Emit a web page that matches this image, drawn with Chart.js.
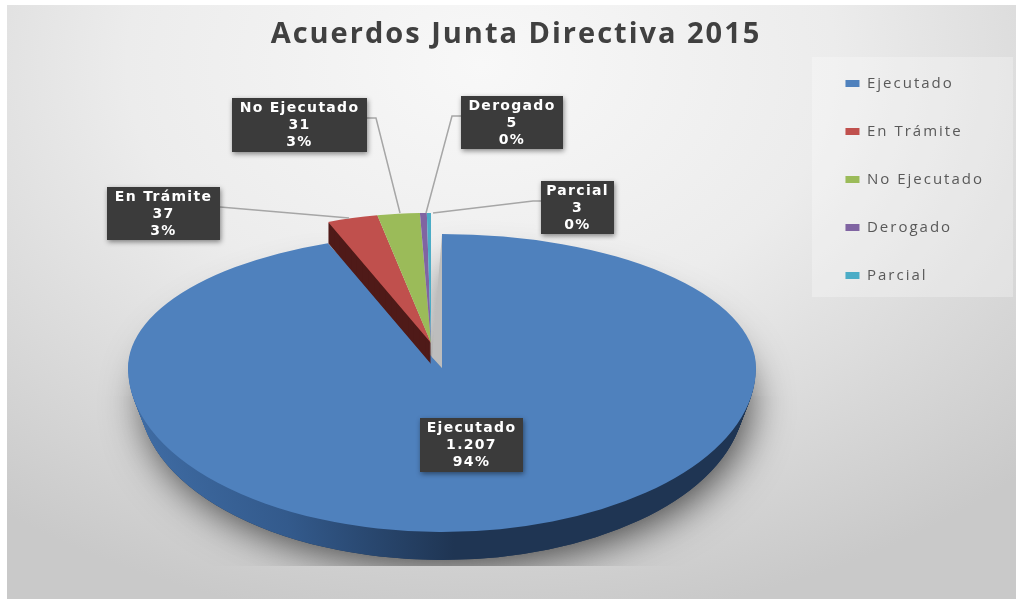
<!DOCTYPE html>
<html lang="es">
<head>
    <meta charset="UTF-8">
    <title>Acuerdos Junta Directiva 2015</title>
    <script src="https://cdn.jsdelivr.net/npm/chart.js"></script>
    <style>
        html, body { margin: 0; padding: 0; background: #fff; overflow: hidden; }
        #frame {
            position: absolute; left: 7px; top: 5px; width: 1009px; height: 594px;
            background: radial-gradient(ellipse 78% 95% at 47% 10%, #f8f8f8 0%, #ececec 45%, #c9c9c9 100%);
        }
        #legendPanel {
            position: absolute; left: 812px; top: 57px; width: 201px; height: 240px;
            background: rgba(255, 255, 255, 0.28);
        }
        #wrap { position: absolute; left: 16px; top: 0; width: 1000px; height: 599px; }
    </style>
</head>
<body>
    <div id="frame"></div>
    <div id="legendPanel"></div>
    <div id="wrap"><canvas id="pie"></canvas></div>

    <script>
        // Data
        const categories = ['Ejecutado', 'En Trámite', 'No Ejecutado', 'Derogado', 'Parcial'];
        const values = [1207, 37, 31, 5, 3];
        const valueLabels = ['1.207', '37', '31', '5', '3'];
        const percentLabels = ['94%', '3%', '3%', '0%', '0%'];
        const sliceColors = ['#4f81bd', '#c0504d', '#9bbb59', '#8064a2', '#4bacc6'];
        const redWallColor = '#4f1a18';

        // Layout (canvas sits 16px from the page edge so the title centres right)
        const ox = 16;
        const mainPie = { cx: 442 - ox, cy: 368, rx: 314, up: 134, down: 164, depth: 28 };
        const explodedPie = { cx: 431 - ox, cy: 343, rx: 283, up: 130, down: 130, depth: 21 };
        const boxes = [
            { x: 420, y: 418, w: 103, h: 54 },
            { x: 107, y: 187, w: 113, h: 53 },
            { x: 232, y: 98, w: 135, h: 54 },
            { x: 461, y: 96, w: 102, h: 53 },
            { x: 541, y: 181, w: 73, h: 53 }
        ];
        const leaders = [
            null,
            [[220, 207], [349, 218]],
            [[367, 118], [376, 118], [400, 213]],
            [[461, 116], [452, 116], [426, 213]],
            [[541, 201], [533, 201], [433, 213]]
        ];

        function drawSlice(ctx, arc, geo, dy) {
            const R = arc.outerRadius;
            const halves = [
                [-1000, geo.cy + dy + 1000, geo.up],
                [geo.cy + dy, 1000, geo.down]
            ];
            halves.forEach(function(h) {
                ctx.save();
                ctx.beginPath();
                ctx.rect(-100, h[0], 1300, h[1]);
                ctx.clip();
                ctx.translate(geo.cx, geo.cy + dy);
                ctx.scale(geo.rx / R, h[2] / R);
                ctx.translate(-arc.x, -arc.y);
                arc.draw(ctx);
                ctx.restore();
            });
        }

        function drawWithColor(ctx, arc, geo, color, dy) {
            const saved = arc.options.backgroundColor;
            arc.options.backgroundColor = color;
            drawSlice(ctx, arc, geo, dy);
            arc.options.backgroundColor = saved;
        }

        const pie3d = {
            id: 'pie3d',
            beforeLayout(chart) {
                chart.ctx.letterSpacing = '2px';
            },
            beforeDraw(chart) {
                chart.ctx.letterSpacing = '2px';
            },
            beforeDatasetsDraw(chart) {
                const ctx = chart.ctx;
                const arcs = chart.getDatasetMeta(0).data;
                const big = arcs[0];

                // the side narrows a little with depth, so it only shows low on the rim
                const sideGeo = function(d) {
                    return Object.assign({}, mainPie, { rx: mainPie.rx - d * 0.4 });
                };

                // side gets lit towards the left
                const sideFill = ctx.createLinearGradient(big.x - big.outerRadius, 0, big.x + big.outerRadius, 0);
                sideFill.addColorStop(0, '#3f6ca4');
                sideFill.addColorStop(0.25, '#335a8c');
                sideFill.addColorStop(0.52, '#1f3553');
                sideFill.addColorStop(1, '#1f3553');

                // cast shadow, cut off at the bottom of the plot area
                ctx.save();
                ctx.beginPath();
                ctx.rect(0, 0, 1000, 566);
                ctx.clip();
                ctx.shadowColor = 'rgba(0,0,0,0.7)';
                ctx.shadowBlur = 40;
                ctx.shadowOffsetX = 5;
                ctx.shadowOffsetY = 6;
                drawWithColor(ctx, big, sideGeo(mainPie.depth), '#1f3553', mainPie.depth);
                ctx.restore();

                // side of the big slice, then its top
                for (let d = mainPie.depth; d > 0; d--) {
                    drawWithColor(ctx, big, sideGeo(d), sideFill, d);
                }
                drawSlice(ctx, big, mainPie, 0);

                // lit cut face next to the gap
                ctx.fillStyle = '#bdbdbd';
                ctx.beginPath();
                ctx.moveTo(mainPie.cx, mainPie.cy - mainPie.up);
                ctx.lineTo(mainPie.cx, mainPie.cy);
                ctx.lineTo(explodedPie.cx + 1, explodedPie.cy + 14);
                ctx.closePath();
                ctx.fill();

                // exploded slices: only the first one shows its cut wall
                for (let d = explodedPie.depth; d > 0; d--) {
                    drawWithColor(ctx, arcs[1], explodedPie, redWallColor, d);
                }
                for (let i = 1; i < arcs.length; i++) {
                    drawSlice(ctx, arcs[i], explodedPie, 0);
                }
                return false;
            },
            afterDraw(chart) {
                const ctx = chart.ctx;
                ctx.save();
                ctx.letterSpacing = '1.3px';

                ctx.strokeStyle = '#a6a6a6';
                ctx.lineWidth = 1.5;
                leaders.forEach(function(pts) {
                    if (!pts) return;
                    ctx.beginPath();
                    pts.forEach(function(p, i) {
                        if (i === 0) ctx.moveTo(p[0] - ox, p[1]);
                        else ctx.lineTo(p[0] - ox, p[1]);
                    });
                    ctx.stroke();
                });

                ctx.textAlign = 'center';
                ctx.textBaseline = 'middle';
                ctx.font = 'bold 14px "DejaVu Sans"';
                boxes.forEach(function(b, i) {
                    ctx.save();
                    ctx.shadowColor = 'rgba(0,0,0,0.45)';
                    ctx.shadowBlur = 5;
                    ctx.shadowOffsetX = 1;
                    ctx.shadowOffsetY = 2;
                    ctx.fillStyle = '#3b3b3b';
                    ctx.fillRect(b.x - ox, b.y, b.w, b.h);
                    ctx.restore();
                    ctx.fillStyle = '#ffffff';
                    const mid = b.x - ox + b.w / 2;
                    ctx.fillText(categories[i], mid, b.y + 10);
                    ctx.fillText(valueLabels[i], mid, b.y + 27);
                    ctx.fillText(percentLabels[i], mid, b.y + 44);
                });
                ctx.restore();
            }
        };

        new Chart(document.getElementById('pie'), {
            type: 'pie',
            data: {
                labels: categories,
                datasets: [{
                    data: values,
                    backgroundColor: sliceColors,
                    borderWidth: 0
                }]
            },
            options: {
                responsive: true,
                maintainAspectRatio: false,
                animation: false,
                layout: { padding: { bottom: 240, right: 22, left: 22 } },
                plugins: {
                    title: {
                        display: true,
                        text: 'Acuerdos Junta Directiva 2015',
                        color: '#404040',
                        font: { family: '"Open Sans"', size: 29, weight: '700' },
                        padding: { top: 17, bottom: 10 }
                    },
                    legend: {
                        position: 'right',
                        labels: {
                            color: '#595959',
                            boxWidth: 14,
                            boxHeight: 7,
                            padding: 33,
                            font: { family: '"Open Sans"', size: 15 }
                        }
                    },
                    tooltip: { enabled: false }
                }
            },
            plugins: [pie3d]
        });
    </script>
</body>
</html>
